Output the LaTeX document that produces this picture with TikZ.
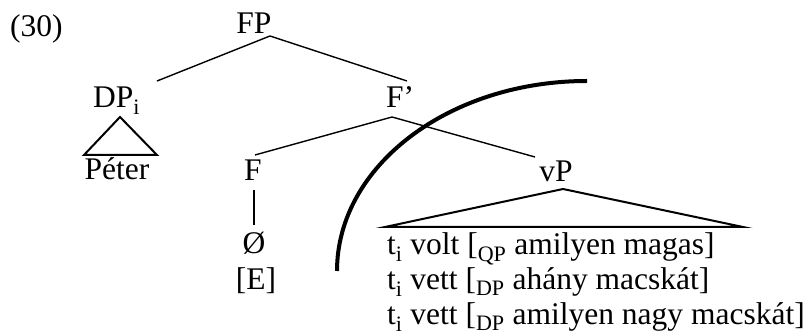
\documentclass[tikz,border=0pt]{standalone}
\usepackage{fontspec}
\setmainfont{Liberation Serif}
\begin{document}
\begin{tikzpicture}[x=1pt,y=-1pt,
  lbl/.style={inner sep=0pt,anchor=base,font=\fontsize{31.5}{38}\selectfont},
  lblw/.style={lbl,anchor=base west},
  branch/.style={line width=1.4pt},
  roof/.style={line width=2pt,line join=miter},
  cut/.style={line width=4pt}]
\useasboundingbox (0,0) rectangle (811,336);

% labels
\node[lblw] (ex) at (10,37) {(30)};
\node[lbl] (FP) at (254,34) {FP};
\node[lblw] (DP) at (93,108) {DP\textsubscript{i}};
\node[lbl] (Fbar) at (400,108) {F’};
\node[lbl] (peter) at (117,180) {Péter};
\node[lbl] (F) at (253,181) {F};
\node[lbl] (null) at (254,254) {Ø};
\node[lbl] (E) at (256,290) {[E]};
\node[lbl] (vP) at (556,182) {vP};
\node[lblw] (l1) at (387,255) {t\textsubscript{i} volt [\textsubscript{QP} amilyen magas]};
\node[lblw] (l2) at (387,290) {t\textsubscript{i} vett [\textsubscript{DP} ahány macskát]};
\node[lblw] (l3) at (387,325) {t\textsubscript{i} vett [\textsubscript{DP} amilyen nagy macskát]};

% attachment points
\coordinate (FPb) at (270,36);
\coordinate (DPt) at (157,81);
\coordinate (Fbt) at (407,81);
\coordinate (Fbb) at (392,117);
\coordinate (Ft) at (255,155);
\coordinate (vPt) at (535,157);
\coordinate (Fb) at (254,190);
\coordinate (nullt) at (254,225);
\coordinate (DPa) at (120,117);
\coordinate (DPl) at (84,155);
\coordinate (DPr) at (157,155);
\coordinate (vPa) at (563,189);
\coordinate (vPl) at (385,227);
\coordinate (vPr) at (743,227);

% branches
\draw[branch] (DPt) -- (FPb) -- (Fbt);
\draw[branch] (Ft) -- (Fbb) -- (vPt);
\draw[branch] (Fb) -- (nullt);

% roofs
\draw[roof] (DPa) -- (DPl) -- (DPr) -- cycle;
\draw[roof] (vPa) -- (vPl) -- (vPr) -- cycle;

% boundary arc
\coordinate (arcs) at (587,81);
\draw[cut] (arcs) arc[start angle=270,end angle=180,x radius=250,y radius=190];
\end{tikzpicture}
\end{document}
